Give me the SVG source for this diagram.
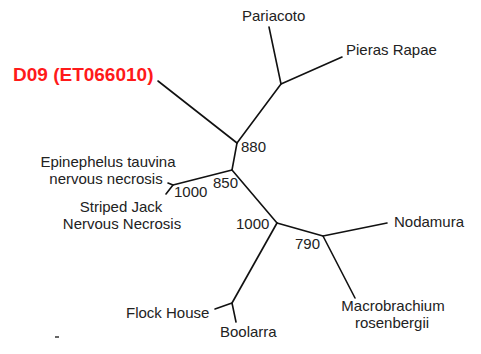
<svg xmlns="http://www.w3.org/2000/svg" width="481" height="354" viewBox="0 0 481 354">
<style>
.t{font-family:"Liberation Sans",Arial,sans-serif;font-size:15px;fill:#222}
.m{text-anchor:middle}
.e{stroke:#111;stroke-width:1.6;fill:none;stroke-linecap:round;stroke-linejoin:round}
.hl{font-family:"Liberation Sans",Arial,sans-serif;font-size:19px;font-weight:bold;fill:#ff1a1a}
</style>
<rect width="481" height="354" fill="#fff"/>
<g id="connectors">
<path class="e" d="M269,27 L281,84 L342,57"/>
<path class="e" d="M281,84 L237,143"/>
<path class="e" d="M158,81 L237,143"/>
<path class="e" d="M237,143 L232,170"/>
<path class="e" d="M232,170 L173,185"/>
<path class="e" d="M168,183 L173,185 L166,194"/>
<path class="e" d="M232,170 L277,223"/>
<path class="e" d="M277,223 L323,236 L387,223"/>
<path class="e" d="M323,236 L355,298"/>
<path class="e" d="M277,223 L232,303"/>
<path class="e" d="M215,309 L232,303 L236,322"/>
</g>
<g id="node-pariacoto"><text class="t" x="242" y="21">Pariacoto</text></g>
<g id="node-pieras"><text class="t" x="346" y="55">Pieras Rapae</text></g>
<g id="node-d09"><text class="hl" x="13" y="81">D09 (ET066010)</text></g>
<g id="node-880"><text class="t" x="241" y="152">880</text></g>
<g id="node-epinephelus"><text class="t m" x="108" y="167">Epinephelus tauvina</text><text class="t m" x="106" y="184">nervous necrosis</text></g>
<g id="node-850"><text class="t" x="213" y="188">850</text></g>
<g id="node-1000a"><text class="t" x="174" y="197">1000</text></g>
<g id="node-striped"><text class="t m" x="121" y="212">Striped Jack</text><text class="t m" x="122" y="229">Nervous Necrosis</text></g>
<g id="node-1000b"><text class="t" x="236" y="229">1000</text></g>
<g id="node-nodamura"><text class="t" x="394" y="227">Nodamura</text></g>
<g id="node-790"><text class="t" x="295" y="249">790</text></g>
<g id="node-macro"><text class="t m" x="393" y="311">Macrobrachium</text><text class="t m" x="392" y="328">rosenbergii</text></g>
<g id="node-flock"><text class="t" x="126" y="318">Flock House</text></g>
<g id="node-boolarra"><text class="t" x="220" y="337">Boolarra</text></g>
<line x1="55" y1="337" x2="59" y2="337" stroke="#333" stroke-width="1.5"/>
</svg>
